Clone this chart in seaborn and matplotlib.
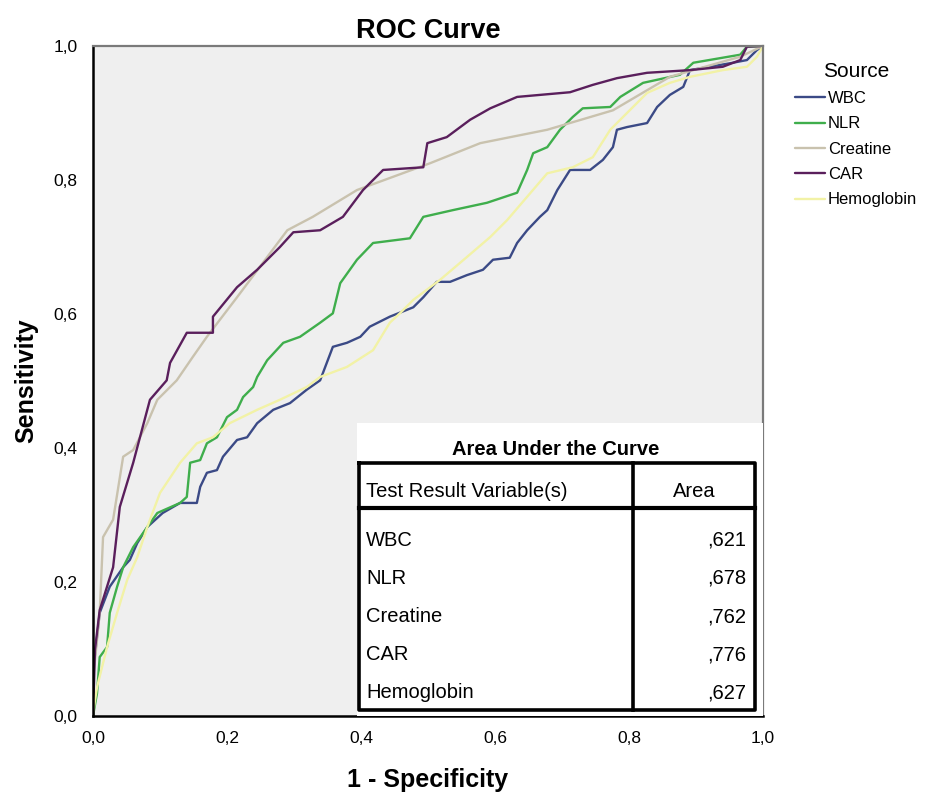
import matplotlib
matplotlib.use("Agg")
import matplotlib.pyplot as plt
import seaborn as sns
import pandas as pd
from matplotlib.patches import Rectangle

# ---------------- data ----------------
sources = ["WBC", "NLR", "Creatine", "CAR", "Hemoglobin"]
auc_values = [",621", ",678", ",762", ",776", ",627"]
tick_values = [0.0, 0.2, 0.4, 0.6, 0.8, 1.0]
tick_labels = ["0,0", "0,2", "0,4", "0,6", "0,8", "1,0"]

wbc_fpr = [0.0, 0.0, 0.010, 0.025, 0.045, 0.055, 0.066, 0.081, 0.104, 0.130, 0.155, 0.160, 0.170, 0.185,
           0.194, 0.215, 0.230, 0.245, 0.269, 0.294, 0.319, 0.339, 0.358, 0.379, 0.399, 0.413, 0.443,
           0.478, 0.493, 0.513, 0.533, 0.558, 0.582, 0.597, 0.622, 0.633, 0.648, 0.667, 0.678, 0.693,
           0.712, 0.742, 0.761, 0.776, 0.782, 0.797, 0.827, 0.842, 0.861, 0.881, 0.891, 0.955, 0.976,
           0.991, 1.0]
wbc_tpr = [0.0, 0.064, 0.154, 0.193, 0.222, 0.233, 0.258, 0.282, 0.303, 0.318, 0.318, 0.342, 0.363, 0.367,
           0.387, 0.412, 0.416, 0.437, 0.457, 0.467, 0.487, 0.501, 0.551, 0.557, 0.566, 0.581, 0.596,
           0.610, 0.625, 0.648, 0.648, 0.658, 0.666, 0.681, 0.684, 0.706, 0.725, 0.745, 0.755, 0.785,
           0.815, 0.815, 0.830, 0.849, 0.875, 0.879, 0.885, 0.909, 0.927, 0.939, 0.964, 0.975, 0.979,
           0.994, 1.0]

nlr_fpr = [0.0, 0.006, 0.010, 0.021, 0.025, 0.036, 0.045, 0.060, 0.081, 0.096, 0.130, 0.140, 0.145, 0.160,
           0.170, 0.185, 0.200, 0.215, 0.224, 0.239, 0.245, 0.260, 0.284, 0.309, 0.339, 0.358, 0.369,
           0.394, 0.418, 0.473, 0.493, 0.537, 0.588, 0.633, 0.648, 0.657, 0.678, 0.697, 0.716, 0.731,
           0.772, 0.787, 0.821, 0.876, 0.896, 0.966, 0.976, 1.0]
nlr_tpr = [0.0, 0.034, 0.088, 0.103, 0.154, 0.193, 0.222, 0.252, 0.282, 0.303, 0.318, 0.327, 0.378, 0.382,
           0.407, 0.416, 0.446, 0.457, 0.476, 0.491, 0.506, 0.531, 0.557, 0.566, 0.587, 0.601, 0.646,
           0.681, 0.706, 0.713, 0.745, 0.755, 0.766, 0.781, 0.815, 0.840, 0.849, 0.875, 0.894, 0.907,
           0.909, 0.924, 0.945, 0.957, 0.975, 0.987, 0.999, 1.0]

creatine_fpr = [0.0, 0.0, 0.010, 0.015, 0.030, 0.045, 0.060, 0.081, 0.096, 0.125, 0.149, 0.170, 0.215,
                0.260, 0.290, 0.328, 0.394, 0.503, 0.578, 0.678, 0.776, 0.861, 0.966, 1.0]
creatine_tpr = [0.0, 0.054, 0.154, 0.267, 0.293, 0.387, 0.397, 0.437, 0.472, 0.501, 0.536, 0.566, 0.625,
                0.685, 0.725, 0.745, 0.785, 0.825, 0.855, 0.875, 0.904, 0.954, 0.984, 1.0]

car_fpr = [0.0, 0.003, 0.010, 0.030, 0.040, 0.060, 0.081, 0.085, 0.110, 0.115, 0.140, 0.179, 0.179, 0.215,
           0.245, 0.279, 0.299, 0.339, 0.373, 0.403, 0.433, 0.493, 0.499, 0.528, 0.563, 0.593, 0.633,
           0.712, 0.746, 0.782, 0.827, 0.891, 0.940, 0.966, 0.976, 1.0]
car_tpr = [0.0, 0.099, 0.158, 0.222, 0.312, 0.378, 0.457, 0.472, 0.501, 0.527, 0.572, 0.572, 0.596, 0.640,
           0.666, 0.700, 0.722, 0.725, 0.745, 0.785, 0.815, 0.819, 0.855, 0.864, 0.890, 0.907, 0.924,
           0.931, 0.942, 0.952, 0.960, 0.964, 0.969, 0.979, 0.999, 1.0]

hemo_fpr = [0.0, 0.0, 0.006, 0.021, 0.036, 0.051, 0.066, 0.081, 0.100, 0.130, 0.155, 0.179, 0.204, 0.245,
            0.279, 0.319, 0.339, 0.379, 0.418, 0.443, 0.458, 0.478, 0.518, 0.558, 0.593, 0.618, 0.648,
            0.678, 0.716, 0.746, 0.772, 0.797, 0.827, 0.861, 0.891, 0.940, 0.976, 0.991, 1.0]
hemo_tpr = [0.0, 0.004, 0.043, 0.103, 0.154, 0.203, 0.237, 0.282, 0.333, 0.378, 0.407, 0.416, 0.437, 0.457,
            0.472, 0.491, 0.506, 0.521, 0.546, 0.587, 0.601, 0.621, 0.651, 0.685, 0.715, 0.740, 0.775,
            0.810, 0.819, 0.834, 0.875, 0.900, 0.930, 0.945, 0.954, 0.964, 0.969, 0.984, 1.0]

colors = ["#3b4a86", "#3fae4c", "#c9c2ae", "#5a1f5c", "#f2f2a6"]

# ---------------- frame ----------------
series = {"WBC": (wbc_fpr, wbc_tpr), "NLR": (nlr_fpr, nlr_tpr), "Creatine": (creatine_fpr, creatine_tpr),
          "CAR": (car_fpr, car_tpr), "Hemoglobin": (hemo_fpr, hemo_tpr)}
frames = []
for name in sources:
    fx, fy = series[name]
    frames.append(pd.DataFrame({"fpr": fx, "tpr": fy, "Source": name, "order": range(len(fx))}))
df = pd.concat(frames, ignore_index=True)

sns.set_theme(style="white")
plt.rcParams["font.family"] = ["Liberation Sans", "DejaVu Sans"]
plt.rcParams["text.color"] = "black"
plt.rcParams["axes.labelcolor"] = "black"
plt.rcParams["xtick.color"] = "black"
plt.rcParams["ytick.color"] = "black"

fig = plt.figure(figsize=(9.35, 7.98), dpi=100)
ax = fig.add_axes([93 / 935, 1 - 716 / 798, 670 / 935, 670 / 798])
ax.set_facecolor("#efefef")

sns.lineplot(data=df, x="fpr", y="tpr", hue="Source", hue_order=sources, palette=colors,
             sort=False, estimator=None, units="Source", ax=ax, linewidth=1.7, legend=True)

ax.set_xlim(0, 1)
ax.set_ylim(0, 1)
ax.set_xticks(tick_values)
ax.set_xticklabels(tick_labels, fontsize=12.5, color="black")
ax.set_yticks(tick_values)
ax.set_yticklabels(tick_labels, fontsize=12.5, color="black")
ax.tick_params(axis="both", direction="out", length=7, width=1.6, color="black", pad=4)
ax.set_xlabel("1 - Specificity", fontsize=18, fontweight="bold", labelpad=16, color="black")
ax.set_ylabel("Sensitivity", fontsize=18, fontweight="bold", labelpad=11, color="black")
ax.set_title("ROC Curve", fontsize=19.5, fontweight="bold", pad=6, color="black")

for s in ["left", "bottom"]:
    ax.spines[s].set_color("black")
    ax.spines[s].set_linewidth(1.8)
for s in ["top", "right"]:
    ax.spines[s].set_color("#7a7a7a")
    ax.spines[s].set_linewidth(1.6)

# legend
handles, labels = ax.get_legend_handles_labels()
ax.legend(handles=handles, labels=labels, title="Source", loc="upper left",
          bbox_to_anchor=(788 / 935, 1 - 55 / 798), bbox_transform=fig.transFigure,
          frameon=False, fontsize=12, title_fontsize=15, handlelength=1.8, handletextpad=0.2,
          labelspacing=0.62, borderaxespad=0)

# ---------------- AUC table inset ----------------
def px(xp):
    return (xp - 93) / 670.0

def py(yp):
    return (716 - yp) / 670.0

ax.add_patch(Rectangle((px(357), 0), 1 - px(357), py(423), facecolor="white", edgecolor="none", zorder=5))
lk = dict(color="black", zorder=6, solid_capstyle="projecting")
ax.plot([px(359), px(755), px(755), px(359), px(359)], [py(463), py(463), py(710), py(710), py(463)], lw=2.6, **lk)
ax.plot([px(359), px(755)], [py(508), py(508)], lw=3.0, **lk)
ax.plot([px(633), px(633)], [py(463), py(710)], lw=2.6, **lk)

ax.text(px(556), py(450), "Area Under the Curve", ha="center", va="center", fontsize=14.5,
        fontweight="bold", zorder=7)
ax.text(px(366), py(492), "Test Result Variable(s)", ha="left", va="center", fontsize=14.5, zorder=7)
ax.text(px(694), py(492), "Area", ha="center", va="center", fontsize=14.5, zorder=7)
row_y = [540, 578, 617, 655, 693]
for name, val, yy in zip(sources, auc_values, row_y):
    ax.text(px(366), py(yy), name, ha="left", va="center", fontsize=14.5, zorder=7)
    ax.text(px(746), py(yy), val, ha="right", va="center", fontsize=14.5, zorder=7)

fig.savefig("out.png", dpi=100)
